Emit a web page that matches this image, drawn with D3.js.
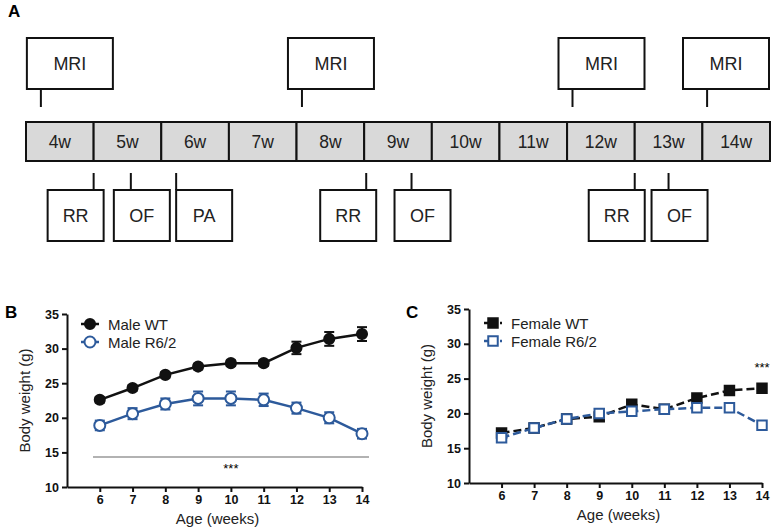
<!DOCTYPE html>
<html>
<head>
<meta charset="utf-8">
<script src="https://cdn.jsdelivr.net/npm/d3@7"></script>
<style>
  body { margin: 0; background: #fff; }
  svg { font-family: "Liberation Sans", Arial, sans-serif; }
</style>
</head>
<body>
<div id="chart"></div>
<script>
// Timeline (panel A)
const weeks = ['4w', '5w', '6w', '7w', '8w', '9w', '10w', '11w', '12w', '13w', '14w'];
const mriWeeks = [4.22, 8.08, 12.08, 14.07];
const testLabels = ['RR', 'OF', 'PA', 'RR', 'OF', 'RR', 'OF'];
const testWeeks = [5.0, 5.55, 6.22, 9.03, 9.7, 13.0, 13.5];

// Body weight (panels B, C)
const ages = [6, 7, 8, 9, 10, 11, 12, 13, 14];
const maleWT = [22.6, 24.3, 26.2, 27.4, 27.9, 27.9, 30.1, 31.4, 32.1];
const maleWTErr = [0.4, 0.4, 0.4, 0.4, 0.4, 0.4, 0.9, 1.0, 1.0];
const maleR62 = [18.9, 20.6, 22.0, 22.8, 22.8, 22.6, 21.4, 20.0, 17.7];
const maleR62Err = [0.7, 0.8, 0.8, 1.0, 1.0, 0.9, 0.8, 0.8, 0.7];
const femaleWT = [17.2, 17.9, 19.2, 19.5, 21.3, 20.6, 22.2, 23.3, 23.6];
const femaleWTErr = [0.3, 0.3, 0.3, 0.3, 0.4, 0.3, 0.3, 0.3, 0.3];
const femaleR62 = [16.5, 17.9, 19.2, 20.0, 20.3, 20.6, 20.8, 20.8, 18.3];
const femaleR62Err = [0.3, 0.3, 0.3, 0.3, 0.3, 0.3, 0.3, 0.3, 0.4];
const yTicks = [10, 15, 20, 25, 30, 35];

const blue = '#2d5a9b';

const svg = d3.select('#chart').append('svg')
    .attr('width', 774)
    .attr('height', 528);

// ---------- Panel A ----------
svg.append('text').attr('x', 8).attr('y', 17)
    .attr('font-size', 17).attr('font-weight', 'bold').text('A');

const tx = d3.scaleLinear().domain([4, 15]).range([26, 770]);
const barTop = 122, barBot = 161;

svg.append('g').selectAll('rect')
    .data(weeks)
    .join('rect')
    .attr('x', (d, i) => tx(4 + i))
    .attr('y', barTop)
    .attr('width', tx(5) - tx(4))
    .attr('height', barBot - barTop)
    .attr('fill', '#d9d9d9')
    .attr('stroke', '#111')
    .attr('stroke-width', 2);

svg.append('g').selectAll('text')
    .data(weeks)
    .join('text')
    .attr('x', (d, i) => tx(4.5 + i))
    .attr('y', (barTop + barBot) / 2 + 6)
    .attr('text-anchor', 'middle')
    .attr('font-size', 17.5)
    .attr('fill', '#222')
    .text(d => d);

// MRI boxes above
const mri = svg.append('g').selectAll('g')
    .data(mriWeeks)
    .join('g');
mri.append('line')
    .attr('x1', d => tx(d)).attr('x2', d => tx(d))
    .attr('y1', 89).attr('y2', 107)
    .attr('stroke', '#111').attr('stroke-width', 2);
mri.append('rect')
    .attr('x', d => Math.min(tx(d) - 14, 769 - 86))
    .attr('y', 38).attr('width', 86).attr('height', 51)
    .attr('fill', '#fff').attr('stroke', '#111').attr('stroke-width', 2);
mri.append('text')
    .attr('x', d => Math.min(tx(d) - 14, 769 - 86) + 43)
    .attr('y', 69.5)
    .attr('text-anchor', 'middle')
    .attr('font-size', 18)
    .attr('fill', '#222')
    .text('MRI');

// behavioural test boxes below
const boxOffset = { RR: -46, OF: -17, PA: 0 };
const tests = svg.append('g').selectAll('g')
    .data(testLabels.map((l, i) => ({ label: l, week: testWeeks[i] })))
    .join('g');
tests.append('line')
    .attr('x1', d => tx(d.week)).attr('x2', d => tx(d.week))
    .attr('y1', 173).attr('y2', 190)
    .attr('stroke', '#111').attr('stroke-width', 2);
tests.append('rect')
    .attr('x', d => tx(d.week) + boxOffset[d.label])
    .attr('y', 190).attr('width', 56).attr('height', 51)
    .attr('fill', '#fff').attr('stroke', '#111').attr('stroke-width', 2);
tests.append('text')
    .attr('x', d => tx(d.week) + boxOffset[d.label] + 28)
    .attr('y', 221.5)
    .attr('text-anchor', 'middle')
    .attr('font-size', 18)
    .attr('fill', '#222')
    .text(d => d.label);

// ---------- Panels B and C ----------
function weightPanel(opt) {
    const g = svg.append('g');
    const x = d3.scaleLinear().domain([5, 14]).range([opt.left, opt.right]);
    const y = d3.scaleLinear().domain([10, 35]).range([opt.bottom, opt.top]);

    g.append('text').attr('x', opt.letterX).attr('y', 318)
        .attr('font-size', 17).attr('font-weight', 'bold').text(opt.letter);

    const yAxis = g.append('g')
        .attr('transform', `translate(${opt.left},0)`)
        .call(d3.axisLeft(y).tickValues(yTicks).tickSize(5).tickSizeOuter(0).tickPadding(3));
    const xAxis = g.append('g')
        .attr('transform', `translate(0,${opt.bottom})`)
        .call(d3.axisBottom(x).tickValues(ages).tickSize(5).tickSizeOuter(0).tickPadding(3));
    [yAxis, xAxis].forEach(a => {
        a.select('.domain').attr('stroke', '#111').attr('stroke-width', 2);
        a.selectAll('.tick line').attr('stroke', '#111').attr('stroke-width', 2);
        a.selectAll('.tick text')
            .attr('fill', '#111')
            .attr('font-size', 12.5)
            .attr('font-weight', 'bold')
            .attr('font-family', '"Liberation Sans", Arial, sans-serif');
    });

    g.append('text')
        .attr('x', (opt.left + opt.right) / 2 + 3)
        .attr('y', opt.bottom + 37)
        .attr('text-anchor', 'middle')
        .attr('font-size', 15)
        .attr('fill', '#222')
        .text('Age (weeks)');
    g.append('text')
        .attr('transform', `translate(${opt.left - 37},${(opt.top + opt.bottom) / 2}) rotate(-90)`)
        .attr('text-anchor', 'middle')
        .attr('font-size', 15)
        .attr('fill', '#222')
        .text('Body weight (g)');

    const line = d3.line().x((d, i) => x(ages[i])).y(d => y(d));

    // draw each series: line, error bars, markers
    opt.series.forEach(s => {
        g.append('path')
            .datum(s.values)
            .attr('d', line)
            .attr('fill', 'none')
            .attr('stroke', s.color)
            .attr('stroke-width', 2.5)
            .attr('stroke-dasharray', s.dash || null);

        const eb = g.append('g').selectAll('g')
            .data(s.values)
            .join('g')
            .attr('stroke', s.color)
            .attr('stroke-width', 2);
        eb.append('line')
            .attr('x1', (d, i) => x(ages[i])).attr('x2', (d, i) => x(ages[i]))
            .attr('y1', (d, i) => y(d - s.err[i])).attr('y2', (d, i) => y(d + s.err[i]));
        eb.append('line')
            .attr('x1', (d, i) => x(ages[i]) - 5).attr('x2', (d, i) => x(ages[i]) + 5)
            .attr('y1', (d, i) => y(d + s.err[i])).attr('y2', (d, i) => y(d + s.err[i]));
        eb.append('line')
            .attr('x1', (d, i) => x(ages[i]) - 5).attr('x2', (d, i) => x(ages[i]) + 5)
            .attr('y1', (d, i) => y(d - s.err[i])).attr('y2', (d, i) => y(d - s.err[i]));

        const sym = d3.symbol().type(s.shape).size(s.size);
        g.append('g').selectAll('path')
            .data(s.values)
            .join('path')
            .attr('transform', (d, i) => `translate(${x(ages[i])},${y(d)})`)
            .attr('d', sym)
            .attr('fill', s.open ? '#fff' : s.color)
            .attr('stroke', s.color)
            .attr('stroke-width', 2);
    });

    // legend
    const lg = g.append('g');
    opt.series.forEach((s, i) => {
        const ly = opt.legendY + i * 18;
        lg.append('line')
            .attr('x1', opt.legendX - 9).attr('x2', opt.legendX + 9)
            .attr('y1', ly).attr('y2', ly)
            .attr('stroke', s.color).attr('stroke-width', 2.5)
            .attr('stroke-dasharray', s.dash ? '5,3' : null);
        lg.append('path')
            .attr('transform', `translate(${opt.legendX},${ly})`)
            .attr('d', d3.symbol().type(s.shape).size(s.size))
            .attr('fill', s.open ? '#fff' : s.color)
            .attr('stroke', s.color)
            .attr('stroke-width', 2);
        lg.append('text')
            .attr('x', opt.legendX + 18).attr('y', ly + 5.5)
            .attr('font-size', 15)
            .attr('fill', '#222')
            .text(s.name);
    });
    return { g, x, y };
}

const B = weightPanel({
    letter: 'B', letterX: 5,
    left: 67, right: 362, top: 314, bottom: 487,
    legendX: 90, legendY: 324,
    series: [
        { name: 'Male WT', values: maleWT, err: maleWTErr, color: '#111', shape: d3.symbolCircle, size: 80 },
        { name: 'Male R6/2', values: maleR62, err: maleR62Err, color: blue, shape: d3.symbolCircle, size: 95, open: true }
    ]
});
// significance bar
B.g.append('line')
    .attr('x1', 93).attr('x2', 369)
    .attr('y1', 457).attr('y2', 457)
    .attr('stroke', '#999').attr('stroke-width', 1.5);
B.g.append('text')
    .attr('x', B.x(10)).attr('y', 473)
    .attr('text-anchor', 'middle')
    .attr('font-size', 13)
    .text('***');

const C = weightPanel({
    letter: 'C', letterX: 406,
    left: 469, right: 762, top: 309, bottom: 483,
    legendX: 493, legendY: 323,
    series: [
        { name: 'Female WT', values: femaleWT, err: femaleWTErr, color: '#111', shape: d3.symbolSquare, size: 90, dash: '8,4' },
        { name: 'Female R6/2', values: femaleR62, err: femaleR62Err, color: blue, shape: d3.symbolSquare, size: 90, open: true, dash: '8,4' }
    ]
});
C.g.append('text')
    .attr('x', C.x(14)).attr('y', 372)
    .attr('text-anchor', 'middle')
    .attr('font-size', 13)
    .text('***');
</script>
</body>
</html>
